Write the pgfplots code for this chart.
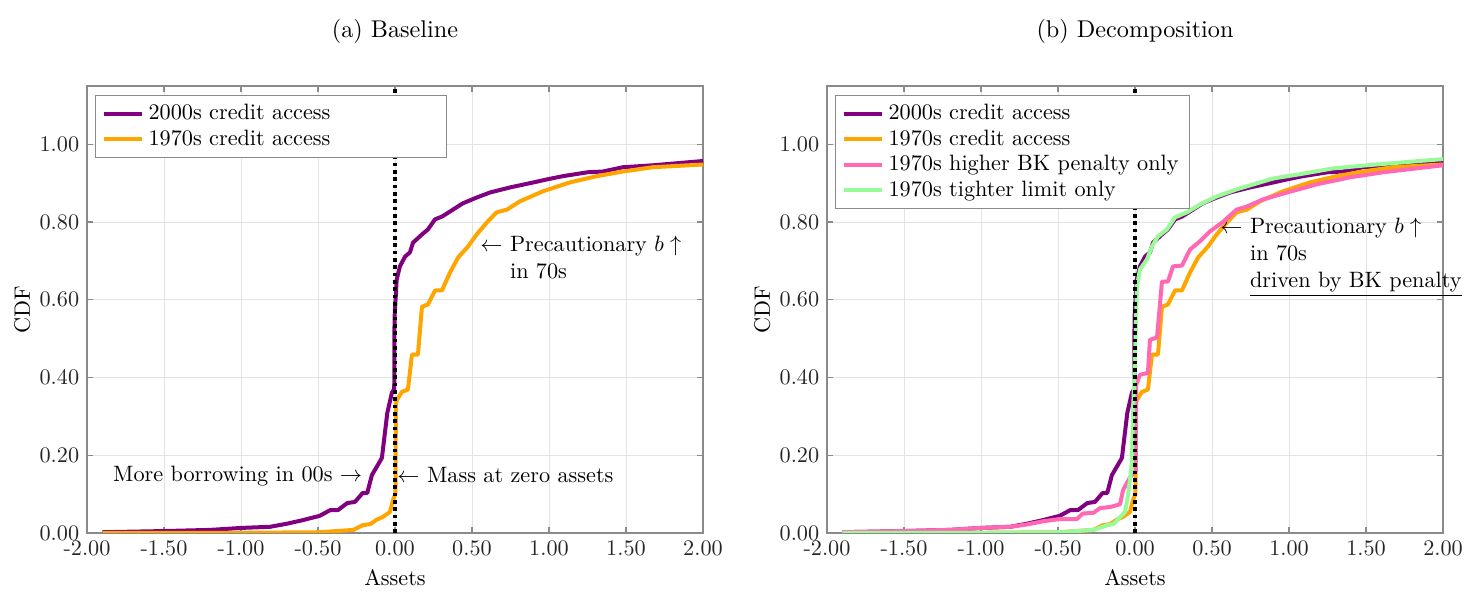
\documentclass[border=0pt]{standalone}
\usepackage{pgfplots}
\pgfplotsset{compat=1.18}

\definecolor{cpurple}{HTML}{800080}
\definecolor{corange}{HTML}{FFA500}
\definecolor{cpink}{HTML}{FF69B4}
\definecolor{cgreen}{HTML}{98FB98}
\definecolor{axgray}{HTML}{8A8A8A}
\definecolor{gridgray}{HTML}{E3E3E3}

% CDF readings, one table per series
\pgfplotstableread{
x y
-1.9 0.002
-1.5 0.005
-1.2 0.008
-1.0 0.013
-0.81 0.016
-0.7 0.024
-0.6 0.033
-0.49 0.044
-0.42 0.059
-0.37 0.059
-0.31 0.077
-0.26 0.080
-0.21 0.103
-0.18 0.103
-0.15 0.149
-0.085 0.193
-0.05 0.309
-0.02 0.361
-0.005 0.370
-0.003 0.554
0.011 0.652
0.032 0.686
0.065 0.711
0.097 0.722
0.117 0.747
0.175 0.768
0.214 0.781
0.26 0.807
0.305 0.814
0.357 0.827
0.44 0.848
0.53 0.863
0.617 0.876
0.747 0.889
0.9 0.902
0.99 0.910
1.09 0.918
1.25 0.928
1.35 0.930
1.48 0.941
1.675 0.946
2.0 0.957
}\tabnew

\pgfplotstableread{
x y
-1.9 0.0
-1.0 0.0005
-0.49 0.002
-0.27 0.008
-0.21 0.020
-0.16 0.023
-0.12 0.034
-0.08 0.041
-0.033 0.054
-0.013 0.085
0.003 0.100
0.006 0.335
0.013 0.343
0.045 0.363
0.084 0.369
0.11 0.459
0.149 0.459
0.175 0.582
0.214 0.588
0.26 0.624
0.305 0.624
0.357 0.670
0.41 0.709
0.474 0.737
0.53 0.768
0.597 0.799
0.66 0.825
0.727 0.832
0.81 0.853
0.96 0.879
1.136 0.902
1.31 0.918
1.48 0.930
1.675 0.941
2.0 0.948
}\tabold

\pgfplotstableread{
x y
-1.9 0.002
-1.5 0.005
-1.2 0.008
-1.0 0.013
-0.81 0.016
-0.7 0.022
-0.6 0.030
-0.487 0.036
-0.377 0.036
-0.34 0.050
-0.27 0.052
-0.227 0.064
-0.16 0.067
-0.097 0.074
-0.078 0.110
-0.03 0.145
0.005 0.160
0.008 0.381
0.032 0.407
0.084 0.412
0.097 0.497
0.143 0.503
0.175 0.647
0.214 0.647
0.247 0.686
0.305 0.688
0.357 0.729
0.42 0.750
0.487 0.776
0.57 0.800
0.66 0.832
0.727 0.840
0.83 0.858
0.987 0.876
1.18 0.897
1.396 0.915
1.61 0.928
2.0 0.946
}\tabbk

\pgfplotstableread{
x y
-1.9 0.0
-1.0 0.0005
-0.49 0.002
-0.27 0.008
-0.18 0.020
-0.14 0.023
-0.097 0.041
-0.065 0.054
-0.045 0.098
-0.02 0.180
-0.013 0.309
0.0 0.450
0.013 0.634
0.032 0.678
0.078 0.704
0.11 0.737
0.149 0.763
0.208 0.781
0.26 0.812
0.338 0.825
0.422 0.845
0.532 0.866
0.66 0.884
0.896 0.912
1.07 0.923
1.286 0.938
1.506 0.946
2.0 0.962
}\tablim

\pgfplotsset{
  cdfaxis/.style={
    scale only axis, width=277.2pt, height=201.15pt,
    xmin=-2, xmax=2, ymin=0, ymax=1.15,
    xtick={-2,-1.5,-1,-0.5,0,0.5,1,1.5,2},
    xticklabels={-2.00,-1.50,-1.00,-0.50,0.00,0.50,1.00,1.50,2.00},
    ytick={0,0.2,0.4,0.6,0.8,1},
    yticklabels={0.00,0.20,0.40,0.60,0.80,1.00},
    grid=major, grid style={color=gridgray, line width=0.4pt},
    axis line style={color=axgray, line width=0.5pt},
    tick align=inside, tick pos=both, major tick length=2.7pt,
    every tick/.style={color=axgray, line width=0.5pt},
    tick label style={color=black!85},
    xlabel={Assets}, ylabel={CDF},
    xlabel style={at={(axis description cs:0.5,-0.1)}, anchor=center},
    ylabel style={at={(axis description cs:-0.105,0.5)}, anchor=center},
    title style={at={(0.5,1)}, anchor=center, yshift=18.5pt,
      font=\fontsize{10.9}{13}\selectfont},
    legend style={at={(0.013,0.98)}, anchor=north west, draw=axgray,
      fill=white, line width=0.5pt, row sep=-1pt},
    legend cell align=left,
    clip mode=individual,
  },
  cdfline/.style={line width=1.8pt, line join=round},
  zeroline/.style={black, line width=2pt, dash pattern=on 1.7pt off 1.6pt, forget plot},
}

\begin{document}
\begin{tikzpicture}
\begin{axis}[cdfaxis, at={(0pt,0pt)}, anchor=south west, title={(a) Baseline}]
\addplot[cdfline, cpurple] table[x=x, y=y] {\tabnew};
\addlegendentry{\makebox[129pt][l]{2000s credit access}}
\addplot[cdfline, corange] table[x=x, y=y] {\tabold};
\addlegendentry{1970s credit access}
\addplot[zeroline] coordinates {(0,0) (0,1.15)};
\node[anchor=west, align=left, inner sep=0pt] at (axis cs:0.552,0.709)
  {$\leftarrow$ Precautionary $b\uparrow$\\\phantom{$\leftarrow$ }in 70s};
\node[anchor=east, inner sep=0pt] at (axis cs:-0.21,0.147) {More borrowing in 00s $\rightarrow$};
\node[anchor=west, inner sep=0pt] at (axis cs:0.013,0.149) {$\leftarrow$ Mass at zero assets};
\end{axis}

\begin{axis}[cdfaxis, at={(333pt,0pt)}, anchor=south west, title={(b) Decomposition}]
\addplot[cdfline, cpurple] table[x=x, y=y] {\tabnew};
\addlegendentry{\makebox[129pt][l]{2000s credit access}}
\addplot[cdfline, corange] table[x=x, y=y] {\tabold};
\addlegendentry{1970s credit access}
\addplot[cdfline, cpink] table[x=x, y=y] {\tabbk};
\addlegendentry{1970s higher BK penalty only}
\addplot[cdfline, cgreen] table[x=x, y=y] {\tablim};
\addlegendentry{1970s tighter limit only}
\addplot[zeroline] coordinates {(0,0) (0,1.15)};
\node[anchor=west, align=left, inner sep=0pt] at (axis cs:0.552,0.709)
  {$\leftarrow$ Precautionary $b\uparrow$\\\phantom{$\leftarrow$ }in 70s\\\phantom{$\leftarrow$ }\underline{driven by BK penalty}};
\end{axis}

\pgfresetboundingbox
\path (-39.15pt,-27.45pt) rectangle (626.85pt,239.85pt);
\end{tikzpicture}
\end{document}
